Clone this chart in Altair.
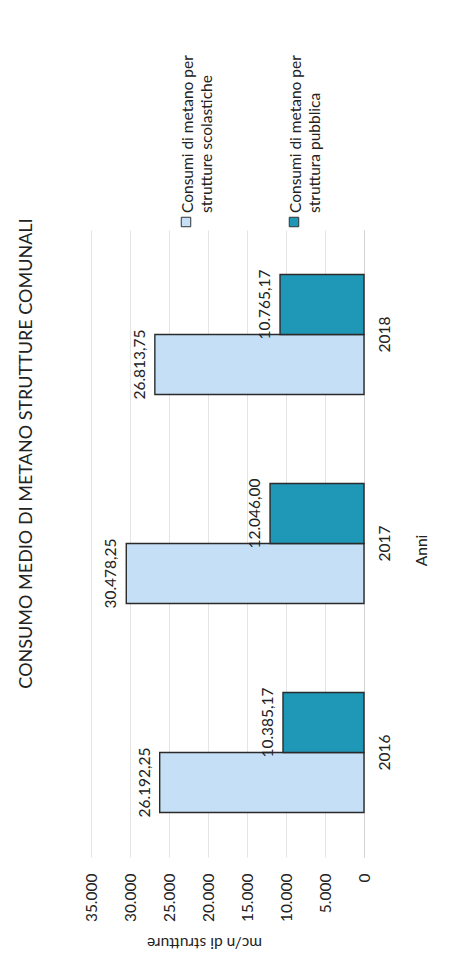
import altair as alt
import pandas as pd

# Average methane consumption of municipal buildings (mc per structure)
years = ["2016", "2017", "2018"]
scolastiche = [26192.25, 30478.25, 26813.75]
pubblica = [10385.17, 12046.00, 10765.17]

series_names = [
    "Consumi di metano per strutture scolastiche",
    "Consumi di metano per struttura pubblica",
]
legend_lines = [
    ["Consumi di metano per", "strutture scolastiche"],
    ["Consumi di metano per", "struttura pubblica"],
]
series_colors = ["#c4dff6", "#1f98b8"]
value_ticks = [0, 5000, 10000, 15000, 20000, 25000, 30000, 35000]

FONT = "Lato"
TEXT_COLOR = "#222222"


def it_number(v):
    s = f"{v:,.2f}"
    return s.replace(",", "X").replace(".", ",").replace("X", ".")


rows = []
for i, anno in enumerate(years):
    for name, vals in zip(series_names, [scolastiche, pubblica]):
        rows.append({"anno": anno, "serie": name, "valore": vals[i],
                     "etichetta": it_number(vals[i])})
df = pd.DataFrame(rows)

x_enc = alt.X(
    "valore:Q",
    scale=alt.Scale(domain=[0, 35000], reverse=True, nice=False, zero=True),
    axis=alt.Axis(
        values=value_ticks,
        labelExpr="replace(format(datum.value, ','), ',', '.')",
        labelAngle=270,
        labelAlign="right",
        labelBaseline="middle",
        labelPadding=16,
        ticks=False,
        domain=False,
        grid=True,
        gridColor="#e4e4e4",
        gridWidth=1,
        titleAngle=180,
        titleAlign="center",
        titleBaseline="middle",
        titleX=113,
        titleY=85,
    ),
    title="mc/n di strutture",
)
y_enc = alt.Y(
    "anno:N",
    sort=years[::-1],
    scale=alt.Scale(paddingInner=0.426, paddingOuter=0.213),
    axis=alt.Axis(
        orient="right",
        labelAngle=270,
        labelAlign="center",
        labelBaseline="top",
        labelPadding=13,
        ticks=False,
        domain=True,
        domainColor="#d4d4d4",
        grid=False,
        titleAngle=270,
        titleAlign="center",
        titleBaseline="middle",
        titleX=57,
        titleY=320,
    ),
    title="Anni",
)
yoff_enc = alt.YOffset(
    "serie:N",
    sort=[series_names[1], series_names[0]],
    scale=alt.Scale(paddingInner=0, paddingOuter=0),
)
color_enc = alt.Color(
    "serie:N",
    scale=alt.Scale(domain=series_names, range=series_colors),
    legend=None,
)

base = alt.Chart(df)

bars = base.mark_bar(stroke="#2a2a2a", strokeWidth=1.4).encode(
    x=x_enc, y=y_enc, yOffset=yoff_enc, color=color_enc
)

labels = base.mark_text(
    angle=270, align="center", baseline="bottom", dy=-7,
    font=FONT, fontSize=15.5, color=TEXT_COLOR,
).encode(x=x_enc, y=y_enc, yOffset=yoff_enc, text="etichetta:N")

# Legend drawn as marks so that its text can read bottom-to-top
legend_layers = []
for k, (name, lines, col) in enumerate(zip(series_names, legend_lines, series_colors)):
    px = 95 + 108 * k
    item = alt.Chart(pd.DataFrame({"serie": [name]}))
    legend_layers.append(
        item.mark_square(size=90, fill=col, stroke="#333333", strokeWidth=1, opacity=1)
        .encode(x=alt.value(px), y=alt.value(-8))
    )
    for j, line in enumerate(lines):
        legend_layers.append(
            item.mark_text(
                text=line, angle=270, align="left", baseline="middle",
                font=FONT, fontSize=15.5, color=TEXT_COLOR,
            ).encode(x=alt.value(px + 2 + 19 * j), y=alt.value(-17))
        )

chart = alt.layer(bars, labels, *legend_layers).properties(
    width=273,
    height=627,
    autosize=alt.AutoSizeParams(type="none"),
    padding={"left": 91, "top": 230, "right": 92, "bottom": 107},
    title=alt.TitleParams(
        "CONSUMO MEDIO DI METANO STRUTTURE COMUNALI",
        orient="left",
        anchor="middle",
        frame="group",
        font=FONT,
        fontSize=18,
        fontWeight="normal",
        color=TEXT_COLOR,
        offset=48,
        dx=90,
    ),
).configure_view(stroke=None).configure_axis(
    labelFont=FONT,
    labelFontSize=15.5,
    labelColor=TEXT_COLOR,
    titleFont=FONT,
    titleFontSize=15.5,
    titleFontWeight="normal",
    titleColor=TEXT_COLOR,
)

chart.save("out.html", embed_options={"renderer": "svg", "actions": False})
